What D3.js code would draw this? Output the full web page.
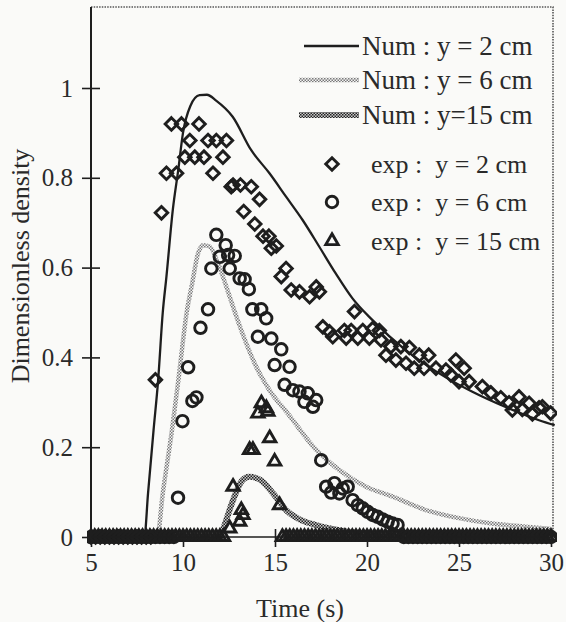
<!DOCTYPE html>
<html><head><meta charset="utf-8">
<script src="https://cdn.jsdelivr.net/npm/d3@7"></script>
<style>body{margin:0;background:#fafaf8} text{font-family:"Liberation Serif","DejaVu Serif",serif;fill:#2a2a2a;white-space:pre}</style>
</head><body><svg id="c" width="566" height="622"></svg>
<script>
// ---------- data ----------
const xTicks = [5, 10, 15, 20, 25, 30];
const yTicks = [0, 0.2, 0.4, 0.6, 0.8, 1];
const yTickLabels = ["0", "0.2", "0.4", "0.6", "0.8", "1"];
const xTitle = "Time (s)";
const yTitle = "Dimensionless density";
const numLabels = ["Num : y = 2 cm", "Num : y = 6 cm", "Num : y=15 cm"];
const expLabels = ["exp :  y = 2 cm", "exp :  y = 6 cm", "exp :  y = 15 cm"];

// numerical curves
const num2T = [5, 7.9, 8.1, 8.4, 8.65, 8.9, 9.1, 9.45, 9.75, 10.0, 10.4, 10.9, 11.3, 11.8, 12.7, 13.7, 14.7, 15.6, 16.5, 17.4, 18.3, 19.2, 20.3, 22.1, 23.9, 25.7, 27.5, 29.35, 30.2];
const num2V = [0, 0, 0.097, 0.238, 0.35, 0.5, 0.58, 0.73, 0.82, 0.9, 0.96, 0.984, 0.985, 0.972, 0.936, 0.862, 0.81, 0.758, 0.706, 0.647, 0.587, 0.532, 0.483, 0.416, 0.365, 0.324, 0.29, 0.26, 0.249];
const num6T = [5, 8.6, 8.9, 9.4, 9.75, 10.2, 10.5, 10.82, 11.1, 11.45, 11.9, 12.36, 12.9, 13.44, 13.98, 14.7, 15.7, 17.24, 18.5, 19.95, 21.4, 23.2, 25.0, 26.8, 28.6, 30];
const num6V = [0, 0, 0.097, 0.238, 0.35, 0.5, 0.565, 0.632, 0.65, 0.647, 0.61, 0.557, 0.491, 0.431, 0.379, 0.327, 0.275, 0.194, 0.149, 0.112, 0.09, 0.06, 0.042, 0.03, 0.023, 0.018];
const num15T = [5, 12.0, 12.2, 12.7, 13.2, 13.6, 14.2, 14.9, 15.6, 16.3, 17.2, 18.5, 20, 30];
const num15V = [0, 0, 0.02, 0.08, 0.125, 0.134, 0.127, 0.097, 0.06, 0.04, 0.027, 0.015, 0.008, 0];

// experimental points, y = 2 cm (diamonds)
const exp2T = [8.5, 8.83, 9.1, 9.65, 9.37, 9.92, 10.87, 10.1, 10.64, 11.14, 12.17, 10.37, 11.36, 11.81, 12.36, 11.63, 12.62, 12.72, 13.12, 13.71, 14.16, 13.3, 13.9, 14.35, 14.67, 14.8, 15.07, 15.6, 15.34, 15.88, 16.33, 16.88, 17.24, 17.41, 17.6, 17.96, 18.14, 19.32, 18.77, 19.14, 19.77, 20.31, 20.67, 18.87, 19.5, 20.13, 20.76, 21.3, 21.84, 22.3, 22.84, 23.35, 21.03, 21.57, 22.12, 22.57, 23.1, 23.75, 24.29, 24.83, 25.28, 24.56, 25.0, 25.55, 26.27, 26.73, 27.27, 27.72, 28.26, 28.81, 29.35, 29.98, 27.9, 28.44, 28.99, 29.53];
const exp2V = [0.35, 0.722, 0.81, 0.81, 0.92, 0.92, 0.92, 0.846, 0.846, 0.846, 0.846, 0.883, 0.883, 0.883, 0.883, 0.81, 0.78, 0.784, 0.784, 0.78, 0.752, 0.725, 0.697, 0.67, 0.67, 0.643, 0.648, 0.598, 0.58, 0.55, 0.546, 0.535, 0.557, 0.546, 0.468, 0.457, 0.446, 0.502, 0.46, 0.46, 0.46, 0.464, 0.46, 0.443, 0.443, 0.443, 0.439, 0.424, 0.424, 0.422, 0.405, 0.405, 0.405, 0.394, 0.387, 0.376, 0.376, 0.376, 0.372, 0.394, 0.376, 0.361, 0.346, 0.346, 0.335, 0.321, 0.31, 0.299, 0.312, 0.298, 0.288, 0.276, 0.283, 0.284, 0.274, 0.29];
const exp2ZeroT = [5, 5.25, 5.5, 5.75, 6, 6.25, 6.5, 6.75, 7, 7.25, 7.5, 7.75, 8, 8.25];

// y = 6 cm (circles)
const exp6T = [9.73, 9.97, 10.28, 10.51, 10.73, 10.95, 11.36, 11.54, 11.81, 12.0, 12.45, 12.81, 12.32, 12.54, 13.08, 13.35, 13.58, 13.77, 14.25, 14.52, 14.07, 14.8, 15.34, 14.98, 15.79, 15.52, 15.97, 16.33, 16.78, 17.24, 16.6, 17.06, 17.51, 17.78, 18.23, 18.05, 18.68, 18.95, 18.5, 19.22, 19.5, 19.77, 20.04, 20.31, 20.58, 20.85, 21.12, 21.39, 21.66];
const exp6V = [0.0875, 0.258, 0.378, 0.303, 0.311, 0.466, 0.507, 0.598, 0.673, 0.624, 0.628, 0.626, 0.65, 0.598, 0.576, 0.574, 0.552, 0.507, 0.507, 0.487, 0.446, 0.442, 0.418, 0.383, 0.379, 0.339, 0.327, 0.324, 0.32, 0.305, 0.301, 0.29, 0.171, 0.112, 0.12, 0.099, 0.108, 0.112, 0.097, 0.082, 0.071, 0.064, 0.056, 0.049, 0.045, 0.039, 0.034, 0.03, 0.027];
const exp6ZeroT = [5, 5.25, 5.5, 5.75, 6, 6.25, 6.5, 6.75, 7, 7.25, 7.5, 7.75, 8, 8.25, 8.5, 8.75, 9, 9.25, 9.5, 22, 22.25, 22.5, 22.75, 23, 23.25, 23.5, 23.75, 24, 24.25, 24.5, 24.75, 25, 25.25, 25.5, 25.75, 26, 26.25, 26.5, 26.75, 27, 27.25, 27.5, 27.75, 28, 28.25, 28.5, 28.75, 29, 29.25, 29.5, 29.75, 30];

// y = 15 cm (triangles)
const exp15T = [12.54, 12.72, 13.08, 13.26, 13.17, 13.62, 13.8, 14.07, 14.26, 14.53, 14.61, 14.71, 14.98, 15.25];
const exp15V = [0.019, 0.112, 0.034, 0.049, 0.06, 0.194, 0.194, 0.275, 0.298, 0.287, 0.279, 0.22, 0.168, 0.071];
const exp15ZeroT = [5, 5.2, 5.4, 5.6, 5.8, 6, 6.2, 6.4, 6.6, 6.8, 7, 7.2, 7.4, 7.6, 7.8, 8, 8.2, 8.4, 8.6, 8.8, 9, 9.2, 9.4, 9.6, 9.8, 10, 10.2, 10.4, 10.6, 10.8, 11, 11.2, 11.4, 11.6, 11.8, 12, 12.2,
  15.4, 15.6, 15.8, 16, 16.2, 16.4, 16.6, 16.8, 17, 17.2, 17.4, 17.6, 17.8, 18, 18.2, 18.4, 18.6, 18.8, 19, 19.2, 19.4, 19.6, 19.8, 20, 20.2, 20.4, 20.6, 20.8, 21, 21.2, 21.4, 21.6, 21.8, 22, 22.2, 22.4, 22.6, 22.8, 23, 23.2, 23.4, 23.6, 23.8, 24, 24.2, 24.4, 24.6, 24.8, 25, 25.2, 25.4, 25.6, 25.8, 26, 26.2, 26.4, 26.6, 26.8, 27, 27.2, 27.4, 27.6, 27.8, 28, 28.2, 28.4, 28.6, 28.8, 29, 29.2, 29.4, 29.6, 29.8, 30];

// ---------- drawing ----------
const svg = d3.select("#c");
const L = 91, R = 553, T = 7, B = 537;
const x = d3.scaleLinear().domain([5, 30]).range([91, 551]);
const y = d3.scaleLinear().domain([0, 1]).range([537, 88]);
const ink = "#1e1e1e";

const defs = svg.append("defs");
function checker(id, dot, bg) {
  const p = defs.append("pattern").attr("id", id).attr("width", 3).attr("height", 3).attr("patternUnits", "userSpaceOnUse");
  p.append("rect").attr("width", 3).attr("height", 3).attr("fill", bg);
  p.append("rect").attr("width", 1.5).attr("height", 1.5).attr("fill", dot);
  p.append("rect").attr("x", 1.5).attr("y", 1.5).attr("width", 1.5).attr("height", 1.5).attr("fill", dot);
}
checker("pLight", "#7a7a7a", "#f2f2f2");
checker("pDark", "#222", "#c8c8c8");
defs.append("clipPath").attr("id", "clip").append("rect").attr("x", L - 4).attr("y", T).attr("width", R - L + 8).attr("height", B - T + 14);

svg.append("rect").attr("width", 566).attr("height", 622).attr("fill", "#fafaf8");

// frame top/right dotted
svg.append("path").attr("d", `M${L},${T}H${R}V${B}`).attr("fill", "none").attr("stroke", "#555").attr("stroke-width", 1.6).attr("stroke-dasharray", "1.5,1.2");

const line = d3.line().x(d => x(d[0])).y(d => y(d[1])).curve(d3.curveMonotoneX);
const plot = svg.append("g").attr("clip-path", "url(#clip)");
plot.append("path").datum(d3.zip(num15T, num15V)).attr("d", line).attr("fill", "none").attr("stroke", "url(#pDark)").attr("stroke-width", 6);
plot.append("path").datum(d3.zip(num6T, num6V)).attr("d", line).attr("fill", "none").attr("stroke", "url(#pLight)").attr("stroke-width", 4.5);
plot.append("path").datum(d3.zip(num2T, num2V)).attr("d", line).attr("fill", "none").attr("stroke", ink).attr("stroke-width", 2.3);

// markers
const sym = {
  diamond: d3.symbol().type(d3.symbolDiamond2).size(100),
  circle: d3.symbol().type(d3.symbolCircle).size(105),
  triangle: d3.symbol().type(d3.symbolTriangle2).size(110)
};
const mk = 2.9;
function pts(ts, vs, s) {
  plot.append("g").selectAll("path").data(d3.zip(ts, vs)).join("path")
    .attr("transform", d => `translate(${x(d[0])},${y(d[1])})`)
    .attr("d", sym[s]).attr("fill", "none").attr("stroke", ink).attr("stroke-width", mk);
}
pts(exp15ZeroT, exp15ZeroT.map(() => 0), "triangle");
pts(exp6ZeroT, exp6ZeroT.map(() => 0), "circle");
pts(exp2ZeroT, exp2ZeroT.map(() => 0), "diamond");
pts(exp15T, exp15V, "triangle");
pts(exp6T, exp6V, "circle");
pts(exp2T, exp2V, "diamond");

// axes
const ya = svg.append("g").attr("transform", `translate(${L},0)`)
  .call(d3.axisLeft(y).tickValues(yTicks).tickFormat((d, i) => yTickLabels[i]).tickSize(9).tickPadding(9));
ya.select(".domain").remove();
ya.selectAll(".tick line").attr("x1", -9).attr("x2", 9).attr("stroke", ink).attr("stroke-width", 1.6);
ya.selectAll(".tick text").attr("font-size", 25).attr("font-family", null).attr("fill", "#2a2a2a");

const xa = svg.append("g").attr("transform", `translate(0,${B})`)
  .call(d3.axisBottom(x).tickValues(xTicks).tickFormat(d3.format("d")).tickSize(8));
xa.select(".domain").remove();
xa.selectAll(".tick line").attr("y1", -8).attr("y2", 10).attr("stroke", ink).attr("stroke-width", 1.6);
xa.selectAll(".tick text").attr("y", 34).attr("dy", null).attr("font-size", 25).attr("font-family", null).attr("fill", "#2a2a2a");

svg.append("line").attr("x1", L).attr("x2", L).attr("y1", T).attr("y2", B + 2).attr("stroke", ink).attr("stroke-width", 2);
svg.append("line").attr("x1", L).attr("x2", R).attr("y1", B).attr("y2", B).attr("stroke", ink).attr("stroke-width", 1.6);

svg.append("text").attr("x", 300).attr("y", 617).attr("text-anchor", "middle").attr("font-size", 26).text(xTitle);
svg.append("text").attr("transform", "translate(29,266) rotate(-90)").attr("text-anchor", "middle").attr("font-size", 26).text(yTitle);

// legend
const numRowY = [46, 80, 115];
const numStroke = [ink, "url(#pLight)", "url(#pDark)"];
const numW = [2.3, 4.5, 6];
const numX0 = [304, 299, 299];
numLabels.forEach((lab, i) => {
  svg.append("line").attr("x1", numX0[i]).attr("x2", 359).attr("y1", numRowY[i]).attr("y2", numRowY[i])
    .attr("stroke", numStroke[i]).attr("stroke-width", numW[i]);
  svg.append("text").attr("x", 362).attr("y", numRowY[i] + 9).attr("font-size", 27).text(lab);
});
const expRowY = [164, 202, 241];
const expSym = ["diamond", "circle", "triangle"];
expLabels.forEach((lab, i) => {
  svg.append("path").attr("transform", `translate(332,${expRowY[i]})`).attr("d", sym[expSym[i]])
    .attr("fill", "none").attr("stroke", ink).attr("stroke-width", mk);
  svg.append("text").attr("x", 371).attr("y", expRowY[i] + 9).attr("font-size", 26).text(lab);
});
</script>
</body></html>
